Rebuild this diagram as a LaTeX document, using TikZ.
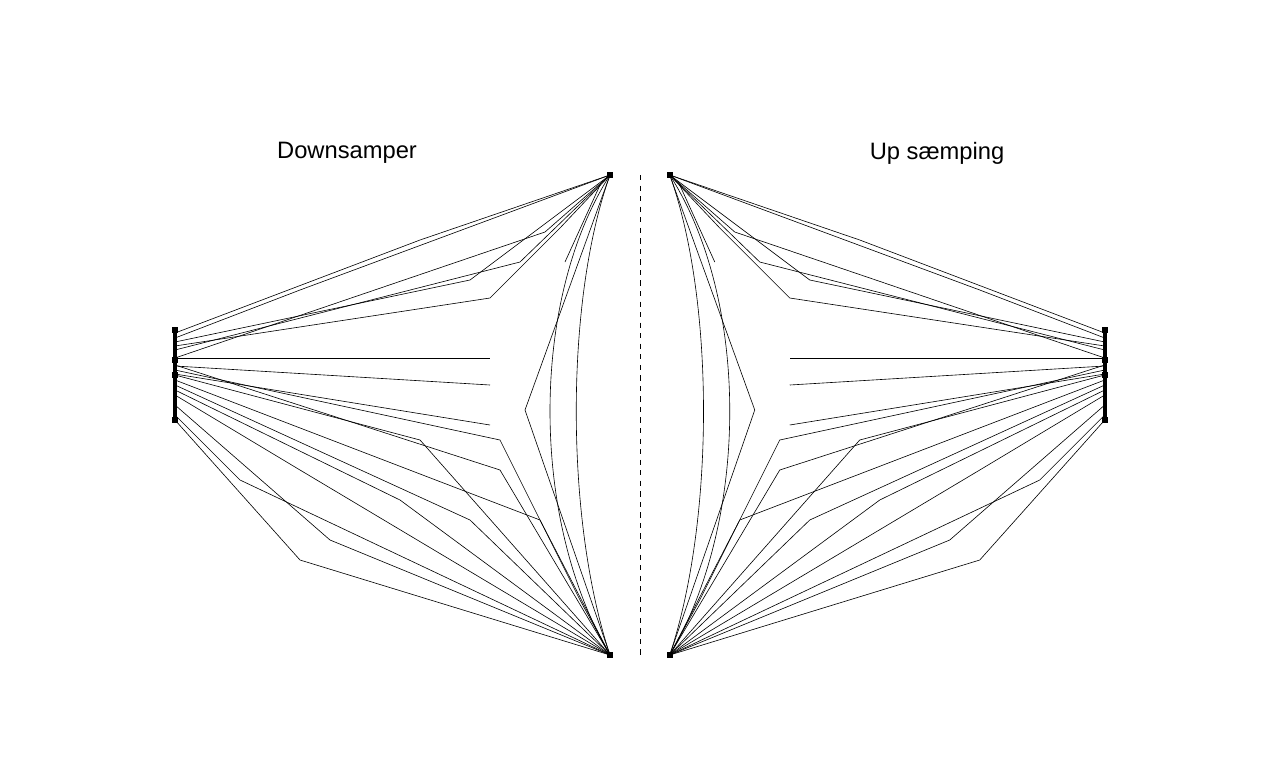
\documentclass[tikz,border=0pt]{standalone}
\usepackage{fontspec}
\setsansfont{Liberation Sans}
\begin{document}
\begin{tikzpicture}[x=0.02cm,y=-0.02cm]
	\useasboundingbox (0,0) rectangle (1280,768);
	\tikzset{fan/.style={line width=0.35pt},
		pin/.style={fill=black}}
	\newcommand{\halfwing}{%
		\foreach \y/\mx/\my in {333/420/240, 342/470/280, 350/520/262, 358/545/232, 338/300/290}
			\draw[fan] (175,\y) -- (\mx,\my) -- (610,175);
		\draw[fan] (175,346) -- (490,298) -- (560,228) -- (610,175);
		\foreach \y/\mx/\my in {365/500/470, 375/420/440, 385/470/520, 395/300/470, 405/330/540, 415/240/480, 420/300/560, 380/540/520, 390/400/500}
			\draw[fan] (175,\y) -- (\mx,\my) -- (610,655);
		\draw[fan] (175,370) -- (500,440) -- (580,600) -- (610,655);
		\foreach \y/\ye in {358/358, 366/385, 374/425}
			\draw[fan] (175,\y) -- (490,\ye);
		\draw[fan] (610,175) .. controls (530,300) and (530,520) .. (610,655);
		\draw[fan] (610,175) -- (525,410) -- (610,655);
		\draw[fan] (610,175) .. controls (565,300) and (565,520) .. (610,655);
		\draw[fan] (600,185) -- (565,262);
		\draw[line width=2pt] (175,328) -- (175,422);
		\foreach \y in {330,360,375,420}
			\fill[pin] (172,\y-3) rectangle (178,\y+3);
		\fill[pin] (607,172) rectangle (613,178);
		\fill[pin] (607,652) rectangle (613,658);
	}
	% left half
	\halfwing
	% right half, mirrored
	\begin{scope}[xshift=25.6cm,xscale=-1]
		\halfwing
	\end{scope}
	\draw[dashed] (640,175) -- (640,655);
	\node[font=\sffamily\fontsize{13.5}{16}\selectfont] (down) at (347,153) {Downsamper};
	\node[font=\sffamily\fontsize{13.5}{16}\selectfont] (up) at (937,153) {Up sæmping};
\end{tikzpicture}
\end{document}
